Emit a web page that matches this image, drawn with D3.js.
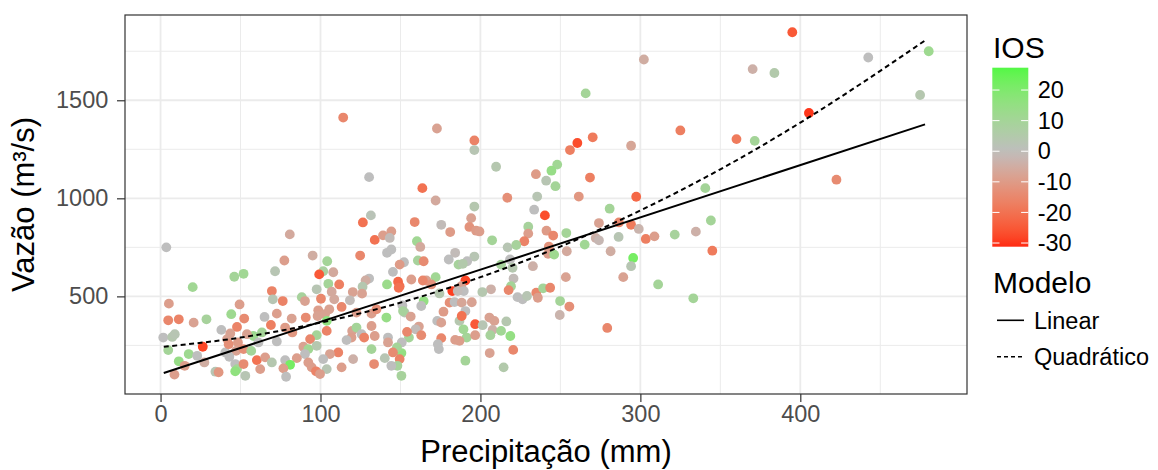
<!DOCTYPE html>
<html>
<head>
<meta charset="utf-8">
<script src="https://cdn.jsdelivr.net/npm/d3@7"></script>
<style>
  body { margin: 0; background: #fff; }
  text { font-family: "Liberation Sans", Arial, Helvetica, sans-serif; }
</style>
</head>
<body>
<svg id="chart" width="1158" height="470"></svg>
<script>
// precipitation (mm), discharge (m3/s) and IOS, one entry per observation
const precip = [
  114.2, 130.4, 302.2, 265.8, 172.8, 196.2, 196.2, 325.0, 270.2, 260.6,
  256.0, 294.2, 209.8, 248.0, 244.4, 234.7, 241.1, 246.9, 268.5, 163.7,
  172.0, 216.8, 235.5, 261.5, 297.4, 196.2, 233.6, 280.8, 395.0, 370.2,
  383.8, 442.5, 480.3, 474.9, 405.4, 360.1, 371.5, 422.6, 340.6, 344.1,
  334.7, 321.5, 345.0, 333.1, 274.1, 286.6, 294.2, 299.0, 303.4, 308.8,
  265.2, 272.1, 274.1, 286.4, 281.4, 295.5, 294.2, 289.3, 311.1, 279.3,
  253.4, 255.6, 249.8, 249.6, 253.7, 254.0, 240.3, 194.2, 193.1, 197.3,
  199.4, 175.5, 181.1, 229.9, 229.9, 241.3, 245.5, 227.4, 207.3, 217.0,
  222.4, 242.8, 242.3, 246.1, 184.2, 180.2, 196.2, 191.7, 186.3, 189.0,
  212.9, 218.5, 220.1, 232.8, 220.7, 219.1, 217.6, 223.2, 226.3, 229.1,
  234.9, 235.9, 239.2, 243.6, 206.6, 201.2, 190.6, 182.4, 172.0, 174.4,
  166.2, 169.3, 164.5, 188.0, 189.6, 185.8, 180.7, 183.8, 188.3, 194.6,
  190.6, 176.9, 173.0, 175.5, 186.9, 188.3, 189.4, 196.7, 201.4, 205.6,
  208.7, 207.6, 206.2, 212.9, 216.2, 218.7, 191.4, 196.7, 184.2, 186.9,
  175.5, 173.4, 174.0, 205.8, 220.5, 190.6, 214.5, 158.9, 160.3, 162.4,
  152.2, 160.9, 164.5, 156.8, 149.5, 151.2, 152.6, 156.4, 161.5, 159.5,
  163.0, 155.3, 154.1, 150.6, 150.6, 150.8, 80.8, 126.5, 131.5, 133.9,
  139.1, 144.3, 143.3, 141.6, 144.3, 95.1, 124.8, 77.4, 71.6, 104.2,
  101.7, 99.2, 108.0, 149.5, 145.3, 130.4, 128.2, 148.5, 164.0, 104.9,
  111.7, 141.6, 3.6, 46.1, 51.9, 20.1, 97.6, 126.3, 120.2, 148.9,
  5.2, 4.8, 11.4, 20.7, 28.7, 49.4, 44.2, 52.3, 47.8, 38.0,
  43.6, 65.0, 69.6, 70.2, 69.0, 63.4, 58.1, 1.7, 7.3, 8.9,
  4.8, 26.4, 17.6, 22.9, 11.4, 15.1, 8.7, 27.4, 34.3, 36.3,
  41.6, 48.4, 47.2, 51.9, 40.5, 43.0, 46.7, 47.8, 46.7, 51.9,
  53.0, 56.7, 60.2, 62.3, 65.4, 69.6, 61.2, 42.6, 76.4, 88.3,
  90.3, 100.3, 107.0, 108.6, 118.4, 113.2, 105.5, 98.6, 98.2, 102.8,
  82.0, 90.8, 72.7, 77.9, 82.4, 72.7, 122.5, 131.9, 135.0, 141.2,
  151.6, 163.0, 103.9, 103.9, 97.6, 93.5, 89.3, 92.4, 97.6, 119.8,
  122.5, 125.7, 127.3, 119.4, 116.3, 131.9, 133.9, 142.2, 142.2, 131.9,
  147.8, 145.3, 149.5, 148.1, 144.3, 140.2, 111.1, 105.9, 101.7, 90.3,
  85.2, 77.9, 81.0, 76.8, 78.5, 92.4, 94.5, 97.2, 103.9, 99.7,
  113.2, 120.4, 133.5, 126.0, 54.0
];
const vazao = [
  1412, 1108, 1708, 1535, 1356, 1295, 1246, 1346, 1311, 1282,
  1246, 1268, 1161, 1172, 1141, 1123, 1090, 1062, 1106, 1052,
  989, 1003, 1009, 1009, 1008, 958, 942, 947, 1847, 1659,
  1639, 1718, 1750, 1527, 1435, 1302, 1293, 1095, 1052, 887,
  830, 815, 733, 490, 874, 877, 865, 844, 793, 806,
  764, 798, 786, 803, 730, 696, 654, 598, 561, 339,
  598, 448, 476, 405, 823, 730, 913, 899, 854, 835,
  831, 865, 828, 855, 820, 835, 810, 781, 786, 750,
  762, 754, 717, 713, 722, 688, 703, 679, 662, 666,
  662, 688, 646, 654, 591, 552, 532, 496, 485, 502,
  519, 493, 541, 544, 536, 522, 581, 527, 598, 515,
  581, 561, 476, 552, 527, 527, 468, 471, 468, 470,
  425, 422, 375, 366, 375, 400, 332, 358, 353, 392,
  375, 329, 302, 324, 372, 298, 290, 302, 278, 273,
  287, 256, 231, 211, 227, 172, 138, 879, 781, 752,
  674, 683, 679, 586, 552, 454, 417, 397, 346, 332,
  302, 290, 319, 211, 95, 265, 816, 877, 913, 788,
  811, 831, 798, 722, 739, 708, 708, 683, 628, 679,
  628, 612, 623, 662, 625, 591, 581, 575, 581, 564,
  561, 561, 750, 600, 615, 547, 536, 549, 522, 544,
  463, 378, 383, 366, 383, 459, 409, 387, 344, 329,
  311, 395, 527, 485, 354, 316, 298, 290, 293, 307,
  226, 243, 206, 197, 169, 146, 101, 163, 116, 113,
  282, 265, 222, 231, 214, 192, 155, 129, 118, 155,
  95, 222, 175, 129, 189, 163, 265, 256, 476, 496,
  476, 488, 524, 485, 480, 446, 434, 429, 400, 409,
  387, 392, 412, 341, 316, 270, 417, 412, 434, 392,
  425, 451, 375, 324, 302, 282, 243, 231, 248, 324,
  341, 307, 290, 290, 277, 349, 298, 290, 265, 231,
  240, 214, 180, 146, 146, 185, 214, 206, 180, 206,
  185, 175, 151, 133, 90, 163, 138, 118, 129, 104,
  138, 180, 155, 514, 307
];
const ios = [
  -15, 0, -5, 10, -8, -16, 3, -17, -18, -27,
  -17, -7, 4, 11, 14, -10, 3, 10, -17, -20,
  -6, -13, 3, -11, -22, 4, 0, 10, -25, -4,
  5, 0, 12, 4, -30, -18, 10, -14, 10, 10,
  -4, 9, -18, 10, -8, -15, -18, -3, -17, -9,
  11, -4, -2, 3, -5, 22, 3, -8, 10, -15,
  -8, -13, 10, -3, 10, -6, -27, -8, -12, -10,
  -9, -1, -10, 9, -9, -10, -15, -16, 10, 3,
  9, -12, -9, 12, -1, 0, 3, 0, 9, 5,
  9, 0, 4, -4, -1, 10, -15, 0, 0, 3,
  -15, -9, 10, -15, -4, 4, -28, -29, 11, 4,
  -8, -12, 15, -8, 0, -1, -13, 0, -7, -8,
  0, -10, 0, -8, 4, -20, 11, -25, 3, -8,
  -8, -4, 9, 11, 4, 15, 10, -9, -9, -9,
  -15, 0, 0, -8, -15, 10, 5, -15, 11, -6,
  0, 9, -14, -9, -20, 0, 3, -8, -8, -1,
  -14, 10, -15, 15, 9, 0, -6, -20, 2, -20,
  -9, -9, -1, 0, 0, -5, -15, -9, 3, 10,
  8, -25, -6, -10, 0, 0, -5, -22, -15, 10,
  -17, 13, 0, 10, 11, 11, 3, 4, -8, -20,
  -9, -15, -16, -8, 9, -9, 12, -14, -16, 0,
  -8, 0, -16, 3, -17, 10, 12, 0, 4, 3,
  10, -28, 12, 0, 14, -9, -9, -5, 3, -11,
  -8, -10, -8, -13, 0, 0, 0, 10, 16, -14,
  3, 10, -20, -9, -9, 4, 0, -13, -16, 9,
  -8, -15, -6, -6, -1, -15, -8, -9, -8, -8,
  -8, -14, -9, -10, -11, 0, -9, -9, -13, 14,
  9, 0, 16, -16, 10, -15, -8, 11, 4, -8,
  10, 0, -16, -9, 0, -9, -9, 0, -8, 10,
  10, -14, -16, 9, 0, 3, -16, -8, 0, 0,
  -9, 0, 22, -9, 0, -9, -9, -16, 3, -9,
  -9, -4, -14, -8, -8
];
const iosRange = [-31.2, 27.3];

// fitted models
const linX = [2, 478];
const linY = [109, 1377];
const quadX = [2, 50, 100, 150, 200, 250, 300, 350, 400, 450, 478];
const quadY = [243, 290, 366, 468, 598, 754, 938, 1148, 1386, 1650, 1805];

const xTicks = [0, 100, 200, 300, 400];
const yTicks = [500, 1000, 1500];
const xMinor = [50, 150, 250, 350, 450];
const yMinor = [250, 750, 1250, 1750];
const legendTicks = [20, 10, 0, -10, -20, -30];
const modelos = ['Linear', 'Quadrático'];

const panel = { left: 125, right: 967, top: 15, bottom: 394 };

const n = Math.min(precip.length, vazao.length, ios.length);
const data = d3.range(n).map(i => ({ p: precip[i], v: vazao[i], c: ios[i] }));

// ggplot-like 5% expansion
const expand = (ext) => {
  const w = ext[1] - ext[0];
  return [ext[0] - w * 0.05, ext[1] + w * 0.05];
};

const x = d3.scaleLinear().domain(expand(d3.extent(precip))).range([panel.left, panel.right]);
const y = d3.scaleLinear().domain(expand(d3.extent(vazao))).range([panel.bottom, panel.top]);

const iosMax = Math.max(-iosRange[0], iosRange[1]);
const negCol = d3.interpolateLab('#bebebe', '#ff2a12');
const posCol = d3.interpolateLab('#bebebe', '#22ff22');
const colour = (v) => (v < 0 ? negCol(-v / iosMax) : posCol(v / iosMax));

const svg = d3.select('#chart');

//panel grid
const grid = svg.append('g');
grid.selectAll('.xminor').data(xMinor).join('line')
  .attr('x1', d => x(d)).attr('x2', d => x(d))
  .attr('y1', panel.top).attr('y2', panel.bottom)
  .attr('stroke', '#ebebeb').attr('stroke-width', 1);
grid.selectAll('.yminor').data(yMinor).join('line')
  .attr('y1', d => y(d)).attr('y2', d => y(d))
  .attr('x1', panel.left).attr('x2', panel.right)
  .attr('stroke', '#ebebeb').attr('stroke-width', 1);
grid.selectAll('.xmajor').data(xTicks).join('line')
  .attr('x1', d => x(d)).attr('x2', d => x(d))
  .attr('y1', panel.top).attr('y2', panel.bottom)
  .attr('stroke', '#ebebeb').attr('stroke-width', 1.8);
grid.selectAll('.ymajor').data(yTicks).join('line')
  .attr('y1', d => y(d)).attr('y2', d => y(d))
  .attr('x1', panel.left).attr('x2', panel.right)
  .attr('stroke', '#ebebeb').attr('stroke-width', 1.8);

// points
svg.append('g')
  .selectAll('circle')
  .data(data)
  .join('circle')
  .attr('cx', d => x(d.p))
  .attr('cy', d => y(d.v))
  .attr('r', 4.9)
  .attr('fill', d => colour(d.c));

// model lines
const lineGen = d3.line().x(d => x(d[0])).y(d => y(d[1])).curve(d3.curveMonotoneX);
svg.append('path')
  .datum(d3.zip(linX, linY))
  .attr('d', lineGen)
  .attr('fill', 'none').attr('stroke', '#000').attr('stroke-width', 2);
svg.append('path')
  .datum(d3.zip(quadX, quadY))
  .attr('d', lineGen)
  .attr('fill', 'none').attr('stroke', '#000').attr('stroke-width', 2)
  .attr('stroke-dasharray', '5,3.5');

// border
svg.append('rect')
  .attr('x', panel.left).attr('y', panel.top)
  .attr('width', panel.right - panel.left).attr('height', panel.bottom - panel.top)
  .attr('fill', 'none').attr('stroke', '#333').attr('stroke-width', 1.2);

// axes
const xAxis = svg.append('g')
  .attr('transform', `translate(0,${panel.bottom})`)
  .call(d3.axisBottom(x).tickValues(xTicks).tickSize(8).tickPadding(3).tickFormat(d3.format('d')));
const yAxis = svg.append('g')
  .attr('transform', `translate(${panel.left},0)`)
  .call(d3.axisLeft(y).tickValues(yTicks).tickSize(8).tickPadding(8.7).tickFormat(d3.format('d')));
[xAxis, yAxis].forEach(ax => {
  ax.select('.domain').remove();
  ax.selectAll('.tick line').attr('stroke', '#333').attr('stroke-width', 1.2);
  ax.selectAll('.tick text')
    .attr('fill', '#4d4d4d')
    .style('font-size', '23.5px')
    .style('font-family', '"Liberation Sans", Arial, sans-serif');
});

// axis titles
svg.append('text')
  .attr('x', (panel.left + panel.right) / 2).attr('y', 462)
  .attr('text-anchor', 'middle').style('font-size', '31px')
  .text('Precipitação (mm)');
svg.append('text')
  .attr('transform', `translate(33.5,${(panel.top + panel.bottom) / 2}) rotate(-90)`)
  .attr('text-anchor', 'middle').style('font-size', '31px')
  .text('Vazão (m³/s)');

// colour legend
const bar = { x: 992.3, w: 36, top: 67.7, bottom: 246.7 };
const yl = d3.scaleLinear().domain(iosRange).range([bar.bottom, bar.top]);

svg.append('text').attr('x', 993).attr('y', 58.3)
  .style('font-size', '30px').text('IOS');

const grad = svg.append('defs').append('linearGradient')
  .attr('id', 'iosGrad').attr('x1', 0).attr('y1', 1).attr('x2', 0).attr('y2', 0);
grad.selectAll('stop')
  .data(d3.range(0, 1.0001, 0.05))
  .join('stop')
  .attr('offset', d => d)
  .attr('stop-color', d => colour(iosRange[0] + d * (iosRange[1] - iosRange[0])));
svg.append('rect')
  .attr('x', bar.x).attr('y', bar.top)
  .attr('width', bar.w).attr('height', bar.bottom - bar.top)
  .attr('fill', 'url(#iosGrad)');

const lt = svg.append('g');
lt.selectAll('.tl').data(legendTicks).join('line')
  .attr('x1', bar.x).attr('x2', bar.x + bar.w / 5)
  .attr('y1', d => yl(d)).attr('y2', d => yl(d))
  .attr('stroke', '#fff').attr('stroke-width', 1);
lt.selectAll('.tr').data(legendTicks).join('line')
  .attr('x1', bar.x + bar.w * 4 / 5).attr('x2', bar.x + bar.w)
  .attr('y1', d => yl(d)).attr('y2', d => yl(d))
  .attr('stroke', '#fff').attr('stroke-width', 1);
lt.selectAll('text').data(legendTicks).join('text')
  .attr('x', 1037.7).attr('y', d => yl(d))
  .attr('dy', '0.35em')
  .style('font-size', '23.5px')
  .text(d => d);

// linetype legend
svg.append('text').attr('x', 993).attr('y', 293.3)
  .style('font-size', '30px').text('Modelo');
const keys = svg.append('g').selectAll('g').data(modelos).join('g')
  .attr('transform', (d, i) => `translate(0,${320.3 + i * 36.4})`);
keys.append('line')
  .attr('x1', 997).attr('x2', 1024).attr('y1', 0).attr('y2', 0)
  .attr('stroke', '#000').attr('stroke-width', 1.6)
  .attr('stroke-dasharray', (d, i) => (i ? '4,3' : null));
keys.append('text')
  .attr('x', 1034).attr('y', 0).attr('dy', '0.35em')
  .style('font-size', '23.5px')
  .text(d => d);
</script>
</body>
</html>
